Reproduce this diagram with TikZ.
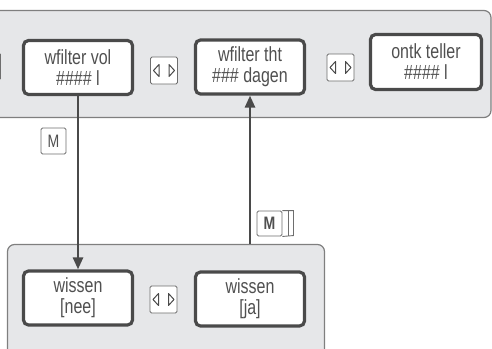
\documentclass[tikz,border=0pt]{standalone}
\usepackage{fontspec}
\setmainfont{Liberation Sans}[FakeStretch=0.78]
\usetikzlibrary{arrows.meta,positioning,calc}

\definecolor{panelfill}{HTML}{E6E7E9}
\definecolor{panelline}{HTML}{7F7F7F}
\definecolor{boxline}{HTML}{4A4A4A}
\definecolor{txtgray}{HTML}{505050}
\definecolor{keyline}{HTML}{6E6E6E}

\tikzset{
    panel/.style={draw=panelline, fill=panelfill, line width=1.2pt, rounded corners=7pt, inner sep=0pt},
    menubox/.style={draw=boxline, fill=white, line width=3.2pt, rounded corners=5pt, minimum width=109pt, minimum height=54pt, inner sep=0pt, align=center, text=txtgray, font=\fontsize{20.5}{21}\selectfont},
    keybox/.style={draw=keyline, fill=white, line width=0.9pt, rounded corners=1.5pt, minimum width=27pt, minimum height=27pt, inner sep=0pt, text=txtgray, font=\fontsize{18}{18}\selectfont},
    keytri/.style={draw=boxline, line width=1pt, line join=round},
    flow/.style={draw=boxline, line width=2.6pt, -{Triangle[length=12pt,width=10pt]}}
}

% left/right triangles inside a key
\newcommand{\lrtri}[1]{%
    \draw[keytri] ($(#1.center)+(-10.5,0)$) -- ++(5.5,-6) -- ++(0,12) -- cycle;
    \draw[keytri] ($(#1.center)+(10.5,0)$) -- ++(-5.5,-6) -- ++(0,12) -- cycle;}

\begin{document}
\begin{tikzpicture}[x=1pt,y=-1pt]
        \useasboundingbox (0,0) rectangle (492,348);
        \clip (0,0) rectangle (492,348);
        % panels
        \node[panel, minimum width=511pt, minimum height=107pt] (upper) at (235.5,64) {};
        \node[panel, minimum width=317pt, minimum height=135pt] (lower) at (166,312) {};
        % upper menu
        \node[keybox] (prevkey) at (-13,66.5) {};
        \node[menubox] (wfvol) at (78,67.5) {wfilter vol\\\#\#\#\# l};
        \node[menubox] (wfdays) at (250,67) {wfilter tht\\\#\#\# dagen};
        \node[menubox, minimum width=111pt, minimum height=55pt] (counter) at (426,62) {ontk teller\\\#\#\#\# l};
        \node[keybox] (lrkeya) at (164,70.5) {};
        \node[keybox] (lrkeyb) at (340.5,67.5) {};
        \lrtri{lrkeya}
        \lrtri{lrkeyb}
        % lower menu
        \node[menubox] (wisnee) at (78,298) {wissen\\{}[nee]};
        \node[menubox] (wisja) at (250,299) {wissen\\{}[ja]};
        \node[keybox] (lrkeyc) at (163.5,299.5) {};
        \lrtri{lrkeyc}
        % connectors
        \draw[flow] (wfvol.south) -- (wisnee.north);
        \draw[flow] (wfdays.south |- lower.north) -- (wfdays.south);
        \node[keybox, minimum width=25pt, minimum height=26pt] (mkey) at (53.5,141) {M};
        \node[keybox, minimum width=25pt, minimum height=25pt, font=\fontsize{18}{18}\bfseries] (mhold) at (269.5,223.5) {M};
        \draw[draw=keyline, line width=0.9pt] (mhold.north east) -- ++(11,0) -- ++(0,25) -- (mhold.south east);
        \draw[draw=keyline, line width=0.9pt] ($(mhold.north east)+(5.5,0)$) -- ++(0,25);
\end{tikzpicture}
\end{document}
